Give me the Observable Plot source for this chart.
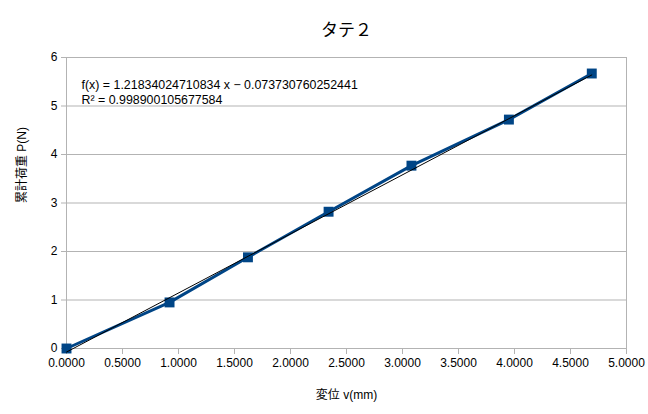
<!DOCTYPE html>
<html>
<head>
<meta charset="utf-8">
<script src="https://cdn.jsdelivr.net/npm/d3@7"></script>
<script src="https://cdn.jsdelivr.net/npm/@observablehq/plot@0.6"></script>
<style>
  html, body { margin: 0; padding: 0; background: #fff; }
  svg { font-family: "Liberation Sans", "Noto Sans CJK JP", sans-serif; }
</style>
</head>
<body>
<div id="chart"></div>
<script>
const titleText = "タテ２";
const xLabel = "変位 v(mm)";
const yLabel = "累計荷重 P(N)";
const displacement = [0, 0.92, 1.62, 2.34, 3.08, 3.95, 4.69];
const load = [0, 0.95, 1.88, 2.82, 3.77, 4.72, 5.67];
const slope = 1.21834024710834;
const intercept = -0.073730760252441;
const eqLine1 = "f(x) = 1.21834024710834 x − 0.073730760252441";
const eqLine2 = "R² = 0.998900105677584";
const xTicks = [0, 0.5, 1, 1.5, 2, 2.5, 3, 3.5, 4, 4.5, 5];
const yTicks = [0, 1, 2, 3, 4, 5, 6];

const data = displacement.map((x, i) => ({x, y: load[i]}));
const xr = d3.extent(displacement);
const trend = xr.map(x => ({x, y: slope * x + intercept}));

const grey = "#b3b3b3";
const chart = Plot.plot({
  width: 648,
  height: 414,
  marginLeft: 66,
  marginRight: 22,
  marginTop: 57,
  marginBottom: 66,
  style: {fontFamily: '"Liberation Sans", "Noto Sans CJK JP", sans-serif', fontSize: "12px", color: "#000", background: "#fff"},
  x: {domain: [0, 5], ticks: xTicks},
  y: {domain: [0, 6], ticks: yTicks},
  marks: [
    Plot.gridY(yTicks, {stroke: grey, strokeOpacity: 1, strokeWidth: 1}),
    Plot.ruleX([0, 5], {stroke: grey, strokeWidth: 1}),
    Plot.ruleY([0], {stroke: grey, strokeWidth: 1}),
    Plot.axisX(xTicks, {tickSize: 6, stroke: grey, tickPadding: 4, tickFormat: d3.format(".4f"), fontSize: 12, fill: "#000", label: null}),
    Plot.axisY(yTicks, {tickSize: 5, stroke: grey, tickPadding: 4, fontSize: 12, fill: "#000", label: null}),
    Plot.line(data, {x: "x", y: "y", stroke: "#004586", strokeWidth: 3}),
    Plot.dot(data, {x: "x", y: "y", symbol: "square", r: 5.6, fill: "#004586", stroke: "none"}),
    Plot.line(trend, {x: "x", y: "y", stroke: "#000", strokeWidth: 1}),
    Plot.text([eqLine1], {frameAnchor: "top-left", dx: 15, dy: 23, text: d => d, textAnchor: "start", fontSize: 12.4, fill: "#000"}),
    Plot.text([eqLine2], {frameAnchor: "top-left", dx: 15, dy: 38, text: d => d, textAnchor: "start", fontSize: 12.4, fill: "#000"}),
    Plot.text([titleText], {frameAnchor: "top", dy: -34, fontSize: 17, fill: "#000"}),
    Plot.text([xLabel], {frameAnchor: "bottom", dy: 50, fontSize: 12, fill: "#000"}),
    Plot.text([yLabel], {frameAnchor: "left", dx: -44, rotate: -90, fontSize: 12, fill: "#000"})
  ]
});
document.getElementById("chart").appendChild(chart);
</script>
</body>
</html>
